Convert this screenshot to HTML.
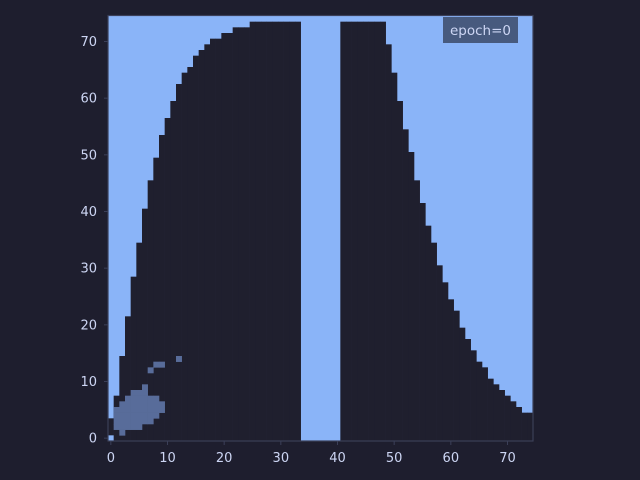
<!DOCTYPE html>
<html><head><meta charset="utf-8">
<style>
html,body{margin:0;padding:0;background:#1e1e2e;}
svg{display:block;font-family:"DejaVu Sans","Liberation Sans",sans-serif;}
</style></head>
<body>
<svg id="chart" width="640" height="480" viewBox="0 0 640 480" xmlns="http://www.w3.org/2000/svg">
<rect x="0" y="0" width="640" height="480" fill="#1e1e2e"/>
<g id="cells"></g>
<rect x="108" y="15.5" width="425" height="425.5" fill="none" stroke="#3b3f58" stroke-width="1.2"/>
<g id="axes"></g>
<g>
<rect x="443" y="17" width="75" height="26" fill="#475a7e"/>
<text x="480.5" y="35" text-anchor="middle" font-size="13.5" fill="#cdd6f4">epoch=0</text>
</g>
</svg>
<script>
// number of dark rows (from bottom) in each column 0..74
const topRows = [4,8,15,22,29,35,41,46,50,54,57,60,63,65,66,68,69,70,71,71,72,72,73,73,73,
  74,74,74,74,74,74,74,74,74,0,0,0,0,0,0,0,74,74,74,74,74,74,74,74,70,
  65,60,55,51,46,42,38,35,31,28,25,23,20,18,16,14,13,11,10,9,8,7,6,5,5];
// first dark row in each column
const bottomRows = [1].concat(new Array(74).fill(0));
// medium-value blob cells [col,row]
const blobCols = [12,8,9,7,6, 4,5,6, 3,4,5,6,7,8, 2,3,4,5,6,7,8,9, 1,2,3,4,5,6,7,8,9, 1,2,3,4,5,6,7,8, 1,2,3,4,5,6,7, 1,2,3,4,5, 2];
const blobRows = [14,13,13,12,9, 8,8,8, 7,7,7,7,7,7, 6,6,6,6,6,6,6,6, 5,5,5,5,5,5,5,5,5, 4,4,4,4,4,4,4,4, 3,3,3,3,3,3,3, 2,2,2,2,2, 1];
const xTicks = [0,10,20,30,40,50,60,70];
const yTicks = [0,10,20,30,40,50,60,70];

const NS = "http://www.w3.org/2000/svg";
const X0 = 108, Y0 = 441, CELL = 425/75;
function sx(c){ return X0 + (c + 0.5) * CELL; }
function sy(r){ return Y0 - (r + 0.5) * CELL; }
const cells = document.getElementById('cells');
const axes = document.getElementById('axes');
function mk(tag, attrs, parent){ const e = document.createElementNS(NS, tag); for (const k in attrs) e.setAttribute(k, attrs[k]); parent.appendChild(e); return e; }

const bg = mk('rect', {x:X0, y:Y0-75*CELL, width:75*CELL, height:75*CELL, fill:'#8ab4f8'}, cells);


topRows.forEach((h, c) => {
  const b = bottomRows[c];
  if (h - b <= 0) return;
  const r = mk('rect', {x:(sx(c)-CELL/2).toFixed(2), y:(sy(h-1)-CELL/2).toFixed(2), width:(CELL+0.3).toFixed(2), height:((h-b)*CELL).toFixed(2), fill:'#1f1f2e'}, cells);
  
  
});
blobCols.forEach((c, i) => {
  const rr = blobRows[i];
  const r = mk('rect', {x:(sx(c)-CELL/2).toFixed(2), y:(sy(rr)-CELL/2).toFixed(2), width:(CELL+0.3).toFixed(2), height:(CELL+0.3).toFixed(2), fill:'#586c9a'}, cells);
  
  
});
xTicks.forEach(v => {
  const t = mk('line', {x1:sx(v), x2:sx(v), y1:Y0, y2:Y0+4, stroke:'#3b3f58', 'stroke-width':1}, axes);
  
  
  const l = mk('text', {x:sx(v), y:462, 'text-anchor':'middle', 'font-size':13, fill:'#cdd6f4'}, axes);
  l.textContent = v;
  
  
});
yTicks.forEach(v => {
  const t = mk('line', {x1:X0-4, x2:X0, y1:sy(v), y2:sy(v), stroke:'#3b3f58', 'stroke-width':1}, axes);
  
  
  const l = mk('text', {x:97, y:sy(v)+4.5, 'text-anchor':'end', 'font-size':13, fill:'#cdd6f4'}, axes);
  l.textContent = v;
  
  
});
</script>
</body></html>
